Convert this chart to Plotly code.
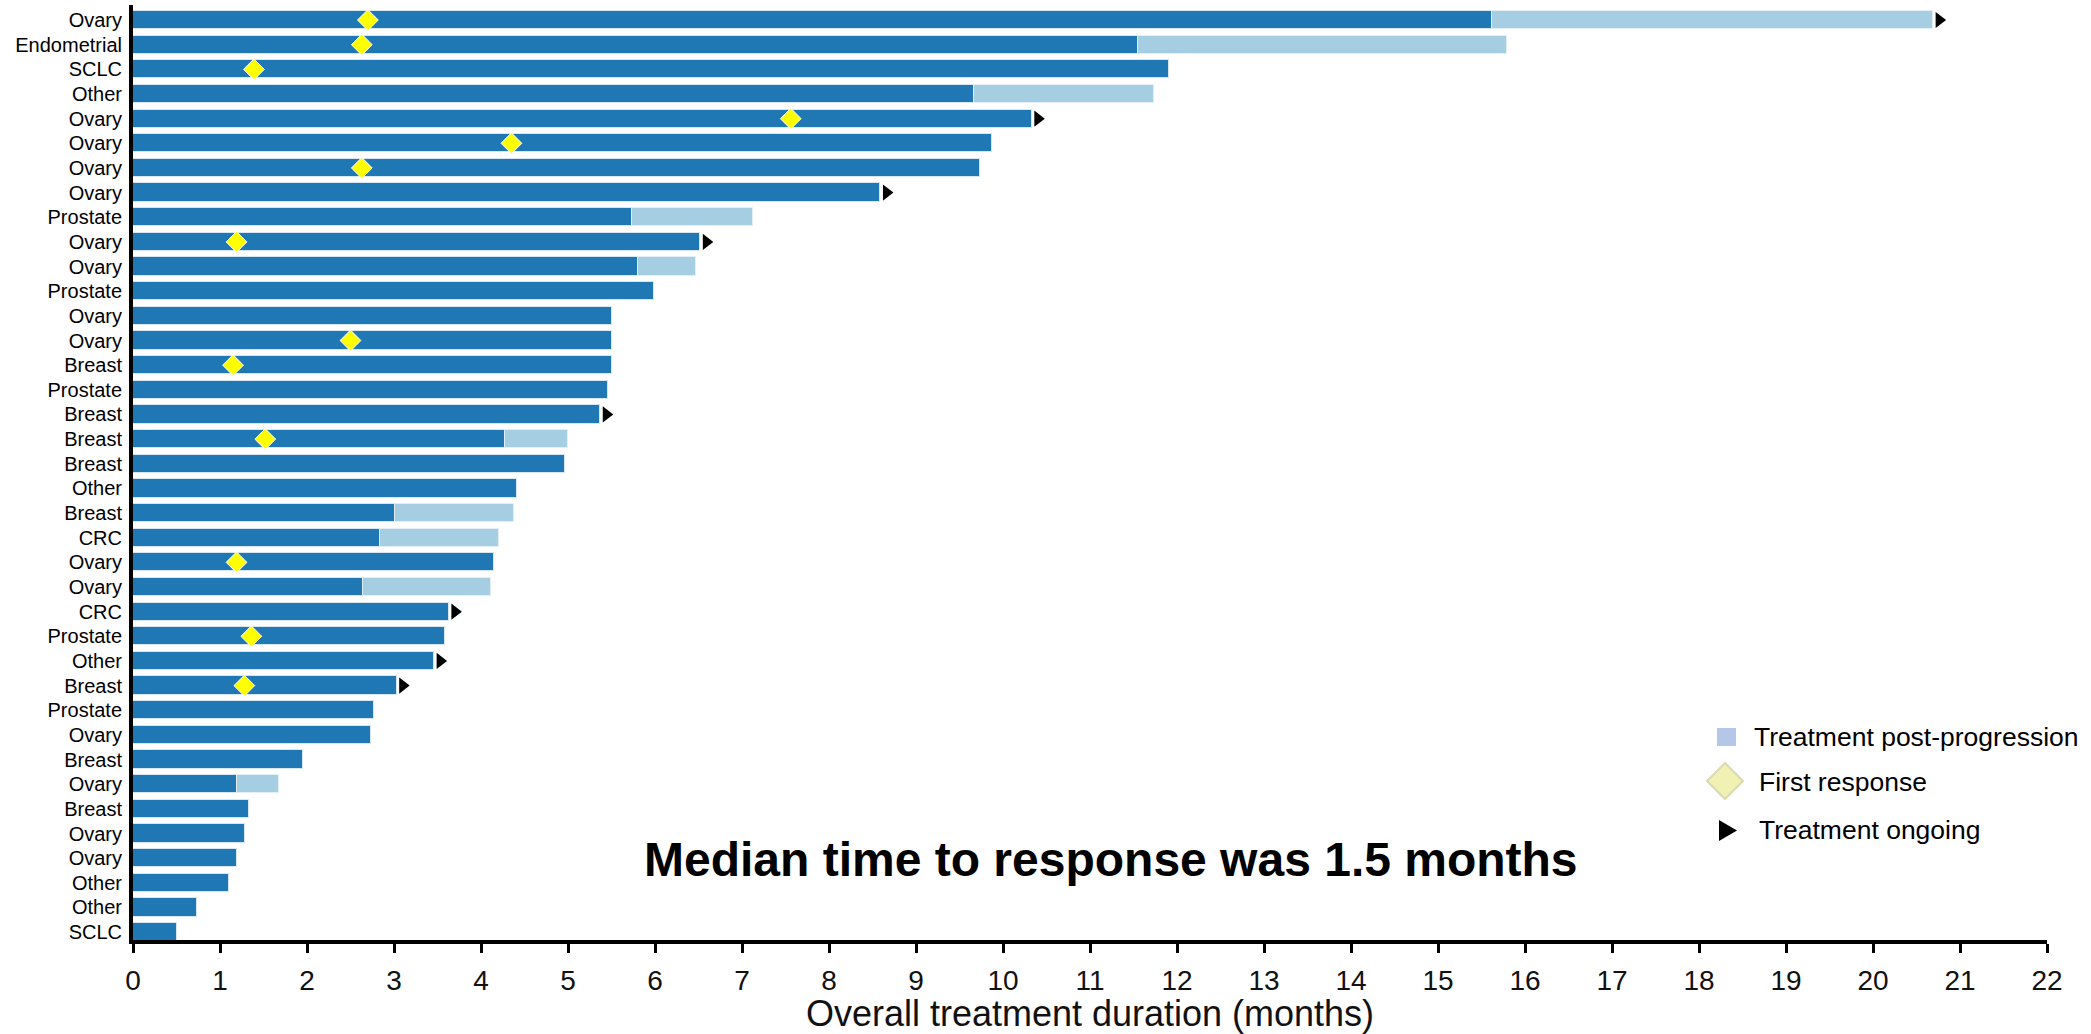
import plotly.graph_objects as go

# ---------------- data ----------------
tumor_types = ["Ovary", "Endometrial", "SCLC", "Other", "Ovary", "Ovary", "Ovary", "Ovary",
               "Prostate", "Ovary", "Ovary", "Prostate", "Ovary", "Ovary", "Breast", "Prostate",
               "Breast", "Breast", "Breast", "Other", "Breast", "CRC", "Ovary", "Ovary", "CRC",
               "Prostate", "Other", "Breast", "Prostate", "Ovary", "Breast", "Ovary", "Breast",
               "Ovary", "Ovary", "Other", "Other", "SCLC"]

# months on treatment before progression (dark bars)
on_treatment = [15.62, 11.55, 11.91, 9.67, 10.33, 9.87, 9.74, 8.59, 5.73, 6.52, 5.80, 5.99,
                5.50, 5.50, 5.50, 5.46, 5.37, 4.28, 4.97, 4.41, 3.01, 2.84, 4.15, 2.64,
                3.63, 3.59, 3.46, 3.03, 2.77, 2.74, 1.95, 1.20, 1.33, 1.29, 1.20, 1.10,
                0.73, 0.50]

# total duration incl. treatment post-progression (light bars); None = no post-progression
total_duration = [20.69, 15.79, None, 11.74, None, None, None, None, 7.13, None, 6.47, None,
                  None, None, None, None, None, 5.00, None, None, 4.38, 4.21, None, 4.12,
                  None, None, None, None, None, None, None, 1.68, None, None, None, None,
                  None, None]

# time of first response (yellow diamonds); None = no response marker
first_response = [2.70, 2.63, 1.39, None, 7.56, 4.35, 2.63, None, None, 1.19, None, None,
                  None, 2.50, 1.15, None, None, 1.52, None, None, None, None, 1.19, None,
                  None, 1.36, None, 1.28, None, None, None, None, None, None, None, None,
                  None, None]

# treatment ongoing (black arrows)
ongoing = [True, False, False, False, True, False, False, True, False, True, False, False,
           False, False, False, False, True, False, False, False, False, False, False, False,
           True, False, True, True, False, False, False, False, False, False, False, False,
           False, False]

x_ticks = list(range(0, 23))

# ---------------- styling / layout constants ----------------
DARK = "#1F77B4"
LIGHT = "#A6CEE3"
FONT = "Liberation Sans, Arial, sans-serif"
W, H = 2091, 1034
L, R, T, B = 133, 44, 5, 94
PW, PH = W - L - R, H - T - B

def px_x(p):
    return (p - L) / PW

def px_y(p):
    return 1 - (p - T) / PH

rows = list(range(len(tumor_types)))
bar_w = 0.74

fig = go.Figure()

# dark bars (treatment)
fig.add_trace(go.Bar(
    y=rows, x=on_treatment, base=[0] * len(rows), orientation="h", width=bar_w,
    marker=dict(color=DARK, line=dict(color="#d6e6f3", width=1)),
    showlegend=False, hoverinfo="x+y"))

# light bars (post-progression)
pp_y = [r for r, t in zip(rows, total_duration) if t is not None]
pp_base = [on_treatment[r] for r in pp_y]
pp_len = [total_duration[r] - on_treatment[r] for r in pp_y]
fig.add_trace(go.Bar(
    y=pp_y, x=pp_len, base=pp_base, orientation="h", width=bar_w,
    marker=dict(color=LIGHT, line=dict(color="#e3eff7", width=1)),
    showlegend=False))

# first response diamonds
fr_y = [r for r, v in zip(rows, first_response) if v is not None]
fr_x = [first_response[r] for r in fr_y]
fig.add_trace(go.Scatter(
    x=fr_x, y=fr_y, mode="markers",
    marker=dict(symbol="diamond", size=16, color="#FFFF00", line=dict(color="white", width=1)),
    showlegend=False))

# ongoing arrows, placed just past the end of each bar
end_dur = [t if t is not None else d for d, t in zip(on_treatment, total_duration)]
og_y = [r for r, o in zip(rows, ongoing) if o]
gap = 0.07
og_x = [end_dur[r] + gap for r in og_y]
fig.add_trace(go.Scatter(
    x=og_x, y=og_y, mode="markers",
    marker=dict(symbol="triangle-right", size=14, color="black", line=dict(width=0)),
    showlegend=False))

# ---------------- manual legend (paper coordinates) ----------------
shapes = []
shapes.append(dict(type="rect", xref="paper", yref="paper",
                   x0=px_x(1717), x1=px_x(1736), y0=px_y(746), y1=px_y(728),
                   fillcolor="#B4C7E7", line=dict(width=0)))
cx, cy, hw, hh = 1725, 781, 18, 18
shapes.append(dict(type="path", xref="paper", yref="paper",
                   path=f"M {px_x(cx-hw)} {px_y(cy)} L {px_x(cx)} {px_y(cy-hh)} "
                        f"L {px_x(cx+hw)} {px_y(cy)} L {px_x(cx)} {px_y(cy+hh)} Z",
                   fillcolor="#F1F1B3", line=dict(color="#DADAB5", width=2)))
shapes.append(dict(type="path", xref="paper", yref="paper",
                   path=f"M {px_x(1719)} {px_y(820)} L {px_x(1737)} {px_y(830.5)} "
                        f"L {px_x(1719)} {px_y(841)} Z",
                   fillcolor="black", line=dict(width=0)))

annotations = []
for text, xp, yp in [("Treatment post-progression", 1752, 737),
                     ("First response", 1757, 782),
                     ("Treatment ongoing", 1757, 830)]:
    annotations.append(dict(text=text, xref="paper", yref="paper", x=px_x(xp), y=px_y(yp),
                            xanchor="left", yanchor="middle", showarrow=False,
                            font=dict(family=FONT, size=26.5, color="black")))

annotations.append(dict(text="<b>Median time to response was 1.5 months</b>",
                        xref="paper", yref="paper", x=px_x(1111), y=px_y(859),
                        xanchor="center", yanchor="middle", showarrow=False,
                        font=dict(family=FONT, size=48, color="black")))

fig.update_layout(
    width=W, height=H, autosize=False,
    margin=dict(l=L, r=R, t=T, b=B, pad=0),
    plot_bgcolor="white", paper_bgcolor="white",
    barmode="overlay", bargap=0,
    shapes=shapes, annotations=annotations,
    showlegend=False,
    font=dict(family=FONT, color="black"),
)

fig.update_xaxes(
    range=[0, 22], tickvals=x_ticks, ticktext=[str(v) for v in x_ticks],
    showgrid=False, zeroline=False,
    showline=True, linewidth=4, linecolor="black",
    ticks="outside", ticklen=9, tickwidth=3, tickcolor="black",
    ticklabelstandoff=3,
    tickfont=dict(family=FONT, size=28, color="#111111"),
    title=dict(text="Overall treatment duration (months)",
               font=dict(family=FONT, size=36, color="#111111"), standoff=8),
)

# row 0 centred ~15 px below the plot top, rows ~24.65 px apart
fig.update_yaxes(
    range=[37.32, -0.61],
    tickvals=rows, ticktext=tumor_types,
    showgrid=False, zeroline=False,
    showline=True, linewidth=4, linecolor="black",
    ticks="", ticklabelstandoff=3,
    tickfont=dict(family=FONT, size=20, color="black"),
)

fig.write_html("out.html",
               config={"displayModeBar": False},
               post_script="document.body.style.margin='0';document.body.style.overflow='hidden';")
